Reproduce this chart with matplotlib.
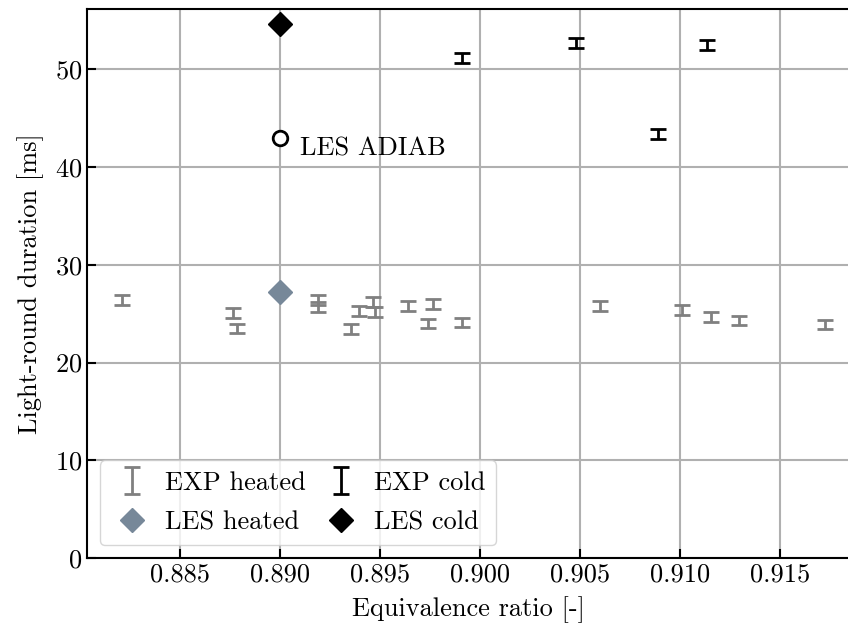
import numpy as np
import matplotlib
matplotlib.use("Agg")
from matplotlib import pyplot as plt

plt.rcParams["font.family"] = "cmr10"
plt.rcParams["mathtext.fontset"] = "cm"
plt.rcParams["axes.formatter.use_mathtext"] = True
plt.rcParams["font.size"] = 19

# experiments, heated inlet
phi_heated = [0.88212, 0.88764, 0.88783, 0.89192, 0.89192, 0.89355, 0.89397, 0.89463,
              0.89475, 0.89642, 0.89763, 0.89742, 0.89908, 0.90601, 0.9101, 0.91155,
              0.91297, 0.91727]
t_heated = [26.4, 25.1, 23.5, 26.4, 25.7, 23.4, 25.3, 26.2,
            25.2, 25.8, 26.0, 24.0, 24.1, 25.8, 25.4, 24.7,
            24.3, 23.9]
err_heated = 0.5

# experiments, cold inlet
phi_cold = [0.89908, 0.9048, 0.90892, 0.91134]
t_cold = [51.2, 52.7, 43.4, 52.5]
err_cold = 0.5

# LES
phi_les = 0.890
t_les_heated = 27.2
t_les_cold = 54.6
t_les_adiab = 43.0

fig = plt.figure(figsize=(8.48, 6.32), dpi=100)
ax = fig.add_axes([0.1026, 0.117, 0.8998, 0.869])

h1 = ax.errorbar(phi_heated, t_heated, yerr=err_heated, fmt="none", ecolor="gray",
                 elinewidth=2, capsize=5.5, capthick=2, zorder=3)
h2, = ax.plot(phi_les, t_les_heated, "D", color="lightslategray", ms=12.5, ls="none",
              zorder=4)
h3 = ax.errorbar(phi_cold, t_cold, yerr=err_cold, fmt="none", ecolor="black",
                 elinewidth=2, capsize=5.5, capthick=2, zorder=3)
h4, = ax.plot(phi_les, t_les_cold, "D", color="black", ms=12.5, ls="none",
              zorder=4)
ax.plot(phi_les, t_les_adiab, "o", mfc="white", mec="black", mew=2, ms=10.5,
        ls="none", zorder=4)
ax.text(0.891, 41.9, "LES ADIAB", va="center", ha="left")

ax.set_xlim(0.88035, 0.9185)
ax.set_ylim(0, 56.2)
ax.set_xticks([0.885, 0.890, 0.895, 0.900, 0.905, 0.910, 0.915])
ax.set_xticklabels(["0.885", "0.890", "0.895", "0.900", "0.905", "0.910", "0.915"])
ax.set_yticks([0, 10, 20, 30, 40, 50])
ax.grid(True, color="#b0b0b0", lw=1.5)
ax.set_axisbelow(True)
ax.tick_params(direction="in", length=6.5, width=1.5)
for s in ax.spines.values():
    s.set_linewidth(1.5)

ax.set_xlabel("Equivalence ratio [-]", labelpad=7)
ax.set_ylabel("Light-round duration [ms]", labelpad=7.5)
ax.legend([h1, h2, h3, h4], ["EXP heated", "LES heated", "EXP cold", "LES cold"],
          loc="lower left", ncol=2, handletextpad=0.45, columnspacing=0.55,
          borderaxespad=0.5, labelspacing=0.6, handlelength=1.6)

fig.savefig("out.png", dpi=100)
